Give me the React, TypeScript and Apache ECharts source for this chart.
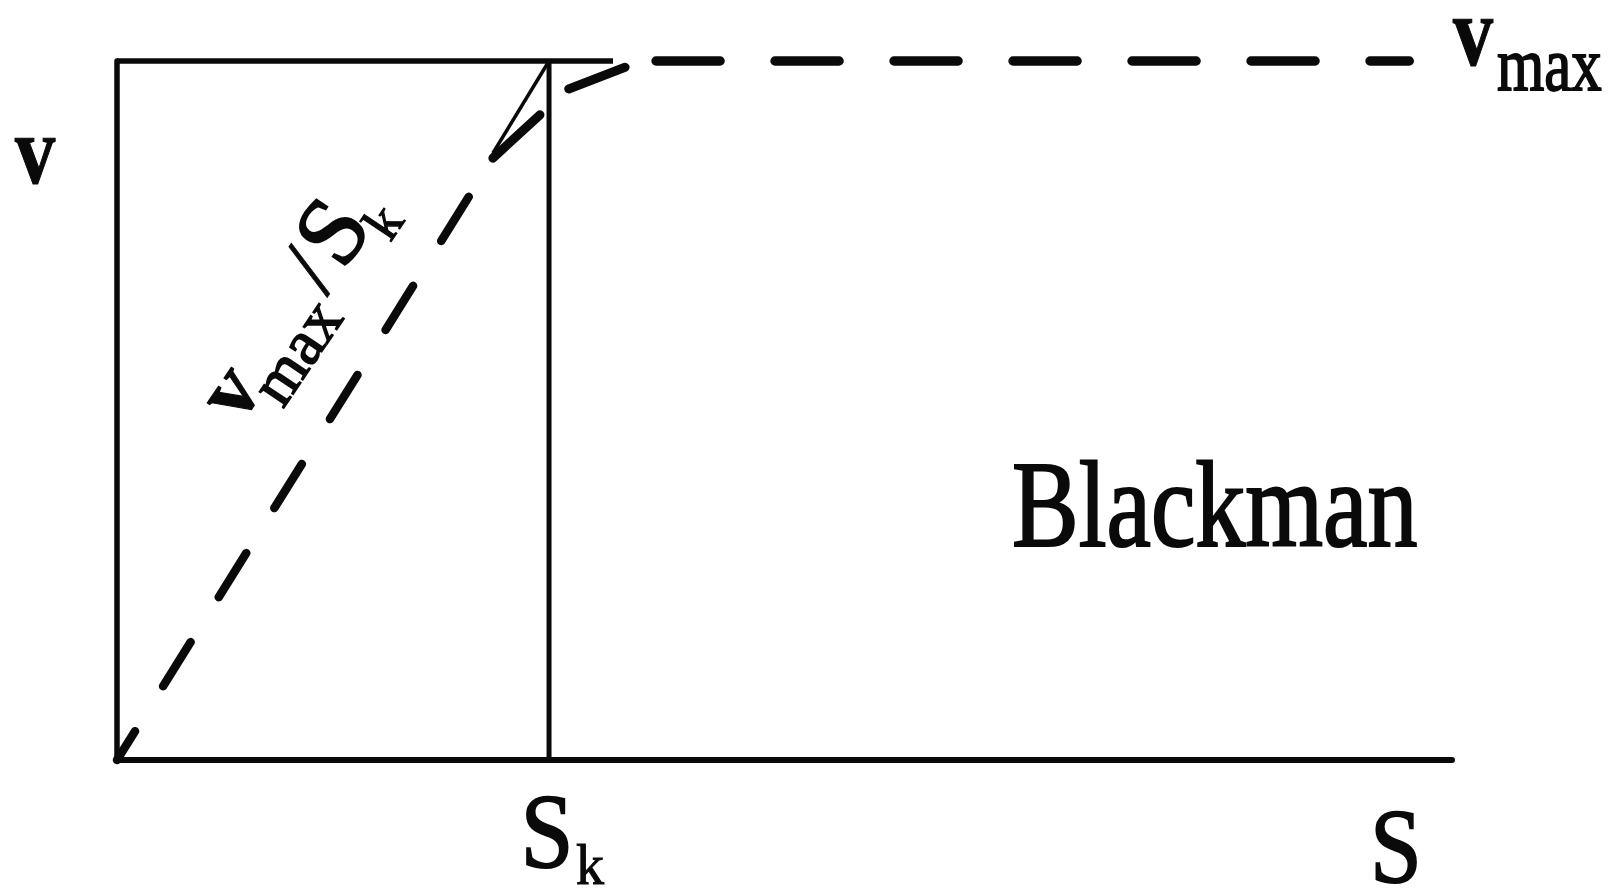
import React, { useEffect, useRef } from "react";
import * as echarts from "echarts";

// Blackman kinetics: S in units of S_k, v in units of v_max
const S_AXIS_MAX = 3.09;
const V_AXIS_MAX = 1;

// solid frame lines and the Blackman corner
const boxTop: number[][] = [[0, 1], [1.148, 1]];
const skLine: number[][] = [[1, 0], [1, 1]];
const blackmanTip: number[][] = [[0.87, 0.868], [1, 1]];

// dashed approach curve: linear rise, bend, saturation plateau
const approachRise: number[][] = [[0, 0], [0.87, 0.861]];
const approachBend: number[][] = [[0.87, 0.861], [0.986, 0.927], [1.037, 0.958], [1.176, 0.991]];
const plateau: number[][] = [[1.2477, 1], [2.991, 1]];

const SERIF = "'Liberation Serif', 'DejaVu Serif', 'Times New Roman', serif";
const INK = "#0a0a0a";

// y for verticalAlign "middle" so that the glyph baseline lands on `base`
const mid = (base: number, size: number) => base - 0.3375 * size;

function txt(text: string, x: number, base: number, size: number, opts: any = {}) {
  return {
    type: "text",
    x,
    y: mid(base, size),
    scaleX: opts.scaleX ?? 1,
    style: {
      text,
      fill: INK,
      stroke: INK,
      lineWidth: opts.weight ?? 1.2,
      font: `${opts.bold ? "bold " : ""}${size}px ${SERIF}`,
      lineHeight: Math.round(size * 0.6),
      align: opts.align ?? "left",
      verticalAlign: "middle",
    },
  };
}

function lineSeries(data: number[][], width: number, dash?: number[], offset = 0) {
  return {
    type: "line",
    data,
    symbol: "none",
    silent: true,
    clip: false,
    animation: false,
    lineStyle: {
      color: INK,
      width,
      type: dash ?? "solid",
      dashOffset: offset,
      cap: dash ? "round" : "butt",
    },
  };
}

export default function App() {
  const ref = useRef<HTMLDivElement>(null);

  useEffect(() => {
    if (!ref.current) return;
    const chart = echarts.init(ref.current, undefined, { renderer: "svg" });
    chart.setOption({
      animation: false,
      backgroundColor: "#ffffff",
      grid: { left: 117, top: 61, width: 1335, height: 699, containLabel: false },
      xAxis: {
        type: "value",
        min: 0,
        max: S_AXIS_MAX,
        axisLine: { show: true, onZero: false, lineStyle: { color: INK, width: 6 } },
        axisTick: { show: false },
        axisLabel: { show: false },
        splitLine: { show: false },
      },
      yAxis: {
        type: "value",
        min: 0,
        max: V_AXIS_MAX,
        axisLine: { show: true, onZero: false, lineStyle: { color: INK, width: 5.5 } },
        axisTick: { show: false },
        axisLabel: { show: false },
        splitLine: { show: false },
      },
      series: [
        lineSeries(boxTop, 5.5),
        lineSeries(skLine, 5),
        lineSeries(blackmanTip, 3.5),
        lineSeries(approachRise, 8.5, [52, 53], 18),
        lineSeries(approachBend, 9, [64, 39], 0),
        lineSeries(plateau, 9.5, [64, 55], 0),
      ],
      graphic: [
        // axis titles
        txt("v", 15, 183, 98, { bold: true, scaleX: 0.82 }),
        txt("S", 547, 867, 106, { align: "center", scaleX: 0.9, weight: 1.8 }),
        txt("k", 576, 884, 56, { weight: 1 }),
        txt("S", 1396, 882, 106, { align: "center", scaleX: 0.88, weight: 1.8 }),
        // plateau label
        txt("v", 1453, 65, 100, { bold: true, scaleX: 0.8 }),
        txt("max", 1497, 90, 76, { scaleX: 0.8, weight: 1.8 }),
        // model name
        txt("Blackman", 1012, 546, 122, { scaleX: 0.82, weight: 2.2 }),
        // slope label along the initial rise
        {
          type: "group",
          x: 240,
          y: 425,
          rotation: (56 * Math.PI) / 180,
          children: [
            txt("v", 0, 0, 86, { bold: true }),
            txt("max", 37, 27, 64, { weight: 1.6 }),
            txt("/", 167, 0, 90, { align: "center", weight: 0.8 }),
            txt("S", 212, 0, 98, { align: "center", weight: 1.8 }),
            txt("k", 235, 23, 54, { weight: 1.2 }),
          ],
        },
      ],
    });
    return () => chart.dispose();
  }, []);

  return (
    <div
      ref={ref}
      style={{ position: "fixed", left: 0, top: 0, width: 1609, height: 891, background: "#fff" }}
    />
  );
}
